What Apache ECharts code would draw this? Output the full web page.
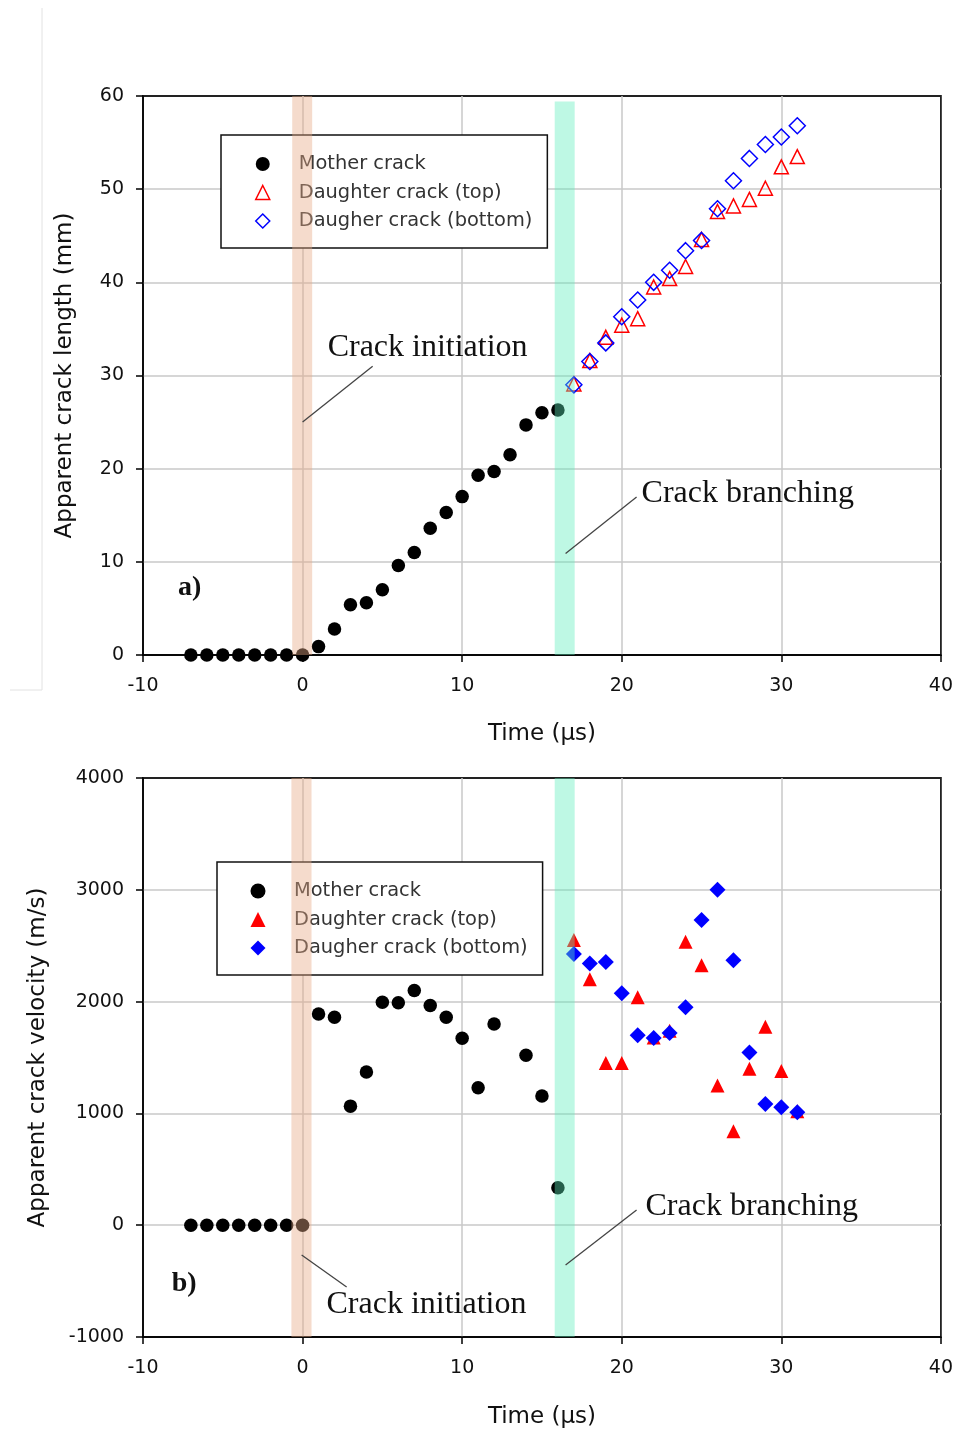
<!DOCTYPE html>
<html><head><meta charset="utf-8">
<script src="https://cdn.jsdelivr.net/npm/echarts@6/dist/echarts.min.js"></script>
<style>html,body{margin:0;padding:0;background:#fff}#c{width:956px;height:1433px}</style>
</head><body><div id="c"></div>
<script>
// ---- data ----
const seriesNames = ['Mother crack', 'Daughter crack (top)', 'Daugher crack (bottom)'];
const timeMother = [-7,-6,-5,-4,-3,-2,-1,0,1,2,3,4,5,6,7,8,9,10,11,12,13,14,15,16];
const lengthMother = [0,0,0,0,0,0,0,0,0.9,2.8,5.4,5.6,7.0,9.6,11.0,13.6,15.3,17.0,19.3,19.7,21.5,24.7,26.0,26.3];
const timeMotherVel = [-7,-6,-5,-4,-3,-2,-1,0,1,2,3,4,5,6,7,8,9,10,11,12,14,15,16];
const velocityMother = [0,0,0,0,0,0,0,0,1890,1860,1065,1370,1995,1990,2100,1965,1860,1672,1230,1800,1520,1155,335];
const timeDaughter = [17,18,19,20,21,22,23,24,25,26,27,28,29,30,31];
const lengthTop = [29.1,31.6,34.1,35.4,36.1,39.5,40.4,41.7,44.6,47.6,48.2,48.9,50.1,52.4,53.5];
const lengthBottom = [29.0,31.5,33.5,36.3,38.1,40.0,41.3,43.4,44.5,47.9,50.9,53.3,54.8,55.6,56.8];
const velocityTop = [2550,2200,1450,1450,2040,1680,1740,2535,2325,1250,840,1400,1775,1380,1020];
const velocityBottom = [2425,2340,2355,2075,1700,1675,1720,1950,2730,3000,2370,1545,1085,1055,1010];
// bands: [xStart, xEnd, yTop, yBottom]
const bandsLength = [[-0.65, 0.6, 60, 0], [15.8, 17.05, 59.4, 0]];
const bandsVelocity = [[-0.7, 0.56, 4000, -1000], [15.8, 17.05, 4000, -1000]];
const bandColors = ['rgba(232,170,134,0.42)', 'rgba(92,237,187,0.40)'];

const pairs = (xs, ys) => xs.map((x, i) => [x, ys[i]]);
const SANS = 'DejaVu Sans';
const SERIF = 'Liberation Serif';

function xAxisOpt(gi, gap) {
  return {
    type: 'value', gridIndex: gi, min: -10, max: 40, interval: 10,
    name: 'Time (\u03bcs)', nameLocation: 'middle', nameGap: gap,
    nameTextStyle: { fontFamily: SANS, fontSize: 23, color: '#111' },
    axisLine: { show: true, onZero: false, lineStyle: { color: '#000', width: 1.5 } },
    axisTick: { show: true, length: 7, lineStyle: { color: '#000', width: 1.5 } },
    axisLabel: { margin: 22, fontFamily: SANS, fontSize: 19, color: '#111', formatter: v => String(v) },
    splitLine: { show: true, showMinLine: false, showMaxLine: false, lineStyle: { color: '#c8c8c8', width: 1.5 } }
  };
}
function yAxisOpt(gi, min, max, interval, name, gap) {
  return {
    type: 'value', gridIndex: gi, min: min, max: max, interval: interval,
    name: name, nameLocation: 'middle', nameGap: gap,
    nameTextStyle: { fontFamily: SANS, fontSize: 23, color: '#111' },
    axisLine: { show: true, onZero: false, lineStyle: { color: '#000', width: 1.5 } },
    axisTick: { show: true, length: 7, lineStyle: { color: '#000', width: 1.5 } },
    axisLabel: { margin: 19, fontFamily: SANS, fontSize: 19, color: '#111', formatter: v => String(v) },
    splitLine: { show: true, showMinLine: false, showMaxLine: false, lineStyle: { color: '#c8c8c8', width: 1.5 } }
  };
}
function bandSeries(gi, bands) {
  return {
    type: 'custom', xAxisIndex: gi, yAxisIndex: gi, z: 10, silent: true,
    data: bands, encode: { x: [0, 1], y: [2, 3] },
    renderItem: (params, api) => {
      const p0 = api.coord([api.value(0), api.value(2)]);
      const p1 = api.coord([api.value(1), api.value(3)]);
      return { type: 'rect', shape: { x: p0[0], y: p0[1], width: p1[0] - p0[0], height: p1[1] - p0[1] },
               style: { fill: bandColors[params.dataIndex] } };
    }
  };
}
function legendOpt(left, top, hollow) {
  const tri = hollow ? { color: 'rgba(255,255,255,0)', borderColor: '#ff0000', borderWidth: 1.5, opacity: 1 } : { color: '#ff0000', borderWidth: 0, opacity: 1 };
  const dia = hollow ? { color: 'rgba(255,255,255,0)', borderColor: '#0000ff', borderWidth: 1.5, opacity: 1 } : { color: '#0000ff', borderWidth: 0, opacity: 1 };
  const size = hollow ? 14 : 15;
  return {
    show: true, orient: 'vertical', left: left, top: top,
    padding: [19, 15, 17, 34 - (size - 14) / 2], itemWidth: size, itemHeight: size, itemGap: 8.5,
    symbolKeepAspect: true,
    borderColor: '#111', borderWidth: 1.5, backgroundColor: '#fff', borderRadius: 0,
    selectedMode: false,
    textStyle: { fontFamily: SANS, fontSize: 19.4, color: '#333', lineHeight: 20, padding: [0, 0, 0, 24 - (size - 14) / 2] },
    data: [
      { name: seriesNames[0], icon: 'circle', itemStyle: { color: '#000', borderWidth: 0, opacity: 1 } },
      { name: seriesNames[1], icon: 'triangle', itemStyle: tri },
      { name: seriesNames[2], icon: 'diamond', itemStyle: dia }
    ]
  };
}

const chart = echarts.init(document.getElementById('c'), null, { renderer: 'canvas' });
const option = {
  animation: false,
  backgroundColor: '#fff',
  grid: [
    { left: 143, top: 96, width: 798, height: 559, show: true, borderColor: '#222', borderWidth: 1.8, backgroundColor: 'rgba(0,0,0,0)' },
    { left: 143, top: 778, width: 798, height: 559, show: true, borderColor: '#222', borderWidth: 1.8, backgroundColor: 'rgba(0,0,0,0)' }
  ],
  xAxis: [xAxisOpt(0, 68), xAxisOpt(1, 69)],
  yAxis: [
    yAxisOpt(0, 0, 60, 10, 'Apparent crack length (mm)', 66),
    yAxisOpt(1, -1000, 4000, 1000, 'Apparent crack velocity (m/s)', 93)
  ],
  legend: [legendOpt(221, 135, true), legendOpt(217, 862, false)],
  series: [
    { name: seriesNames[0], type: 'scatter', xAxisIndex: 0, yAxisIndex: 0, z: 3,
      data: pairs(timeMother, lengthMother), symbol: 'circle', symbolSize: 13.5, itemStyle: { color: '#000', opacity: 1 } },
    { name: seriesNames[1], type: 'scatter', xAxisIndex: 0, yAxisIndex: 0, z: 3,
      data: pairs(timeDaughter, lengthTop), symbol: 'triangle', symbolSize: 14,
      itemStyle: { color: 'rgba(255,255,255,0)', borderColor: '#ff0000', borderWidth: 1.5, opacity: 1 } },
    { name: seriesNames[2], type: 'scatter', xAxisIndex: 0, yAxisIndex: 0, z: 3,
      data: pairs(timeDaughter, lengthBottom), symbol: 'diamond', symbolSize: 16,
      itemStyle: { color: 'rgba(255,255,255,0)', borderColor: '#0000ff', borderWidth: 1.5, opacity: 1 } },
    { name: seriesNames[0], type: 'scatter', xAxisIndex: 1, yAxisIndex: 1, z: 3,
      data: pairs(timeMotherVel, velocityMother), symbol: 'circle', symbolSize: 13.5, itemStyle: { color: '#000', opacity: 1 } },
    { name: seriesNames[1], type: 'scatter', xAxisIndex: 1, yAxisIndex: 1, z: 3,
      data: pairs(timeDaughter, velocityTop), symbol: 'triangle', symbolSize: 14, itemStyle: { color: '#ff0000', opacity: 1 } },
    { name: seriesNames[2], type: 'scatter', xAxisIndex: 1, yAxisIndex: 1, z: 3,
      data: pairs(timeDaughter, velocityBottom), symbol: 'diamond', symbolSize: 16, itemStyle: { color: '#0000ff', opacity: 1 } },
    bandSeries(0, bandsLength),
    bandSeries(1, bandsVelocity)
  ]
};
chart.setOption(option);

// annotations positioned in data coordinates
const annotations = [
  { g: 0, text: 'Crack initiation', at: [1.57, 33.0], line: [[0, 25.0], [4.39, 31.0]] },
  { g: 0, text: 'Crack branching', at: [21.24, 17.3], line: [[16.48, 10.9], [20.93, 16.95]] },
  { g: 1, text: 'Crack branching', at: [21.49, 163], line: [[16.48, -356], [20.93, 136]] },
  { g: 1, text: 'Crack initiation', at: [1.5, -714], line: [[-0.06, -267], [2.76, -553]] }
];
const panelLabels = [{ g: 0, text: 'a)', at: [-7.8, 7.2] }, { g: 1, text: 'b)', at: [-8.2, -527] }];
const px = (g, p) => chart.convertToPixel({ gridIndex: g }, p);
const graphics = [
  { type: 'line', shape: { x1: 42, y1: 8, x2: 42, y2: 690 }, style: { stroke: '#e2e2e2', lineWidth: 1 }, silent: true },
  { type: 'line', shape: { x1: 10, y1: 690, x2: 42, y2: 690 }, style: { stroke: '#e2e2e2', lineWidth: 1 }, silent: true }
];
annotations.forEach(a => {
  const p = px(a.g, a.at), l0 = px(a.g, a.line[0]), l1 = px(a.g, a.line[1]);
  graphics.push({ type: 'line', z: 20, silent: true, shape: { x1: l0[0], y1: l0[1], x2: l1[0], y2: l1[1] },
                  style: { stroke: '#444', lineWidth: 1.3 } });
  graphics.push({ type: 'text', z: 20, silent: true, x: p[0], y: p[1],
                  style: { text: a.text, font: '32px "' + SERIF + '"', fill: '#111', textAlign: 'left', textVerticalAlign: 'middle' } });
});
panelLabels.forEach(a => {
  const p = px(a.g, a.at);
  graphics.push({ type: 'text', z: 20, silent: true, x: p[0], y: p[1],
                  style: { text: a.text, font: 'bold 28px "' + SERIF + '"', fill: '#111', textAlign: 'left', textVerticalAlign: 'middle' } });
});
chart.setOption({ graphic: graphics });
</script></body></html>
